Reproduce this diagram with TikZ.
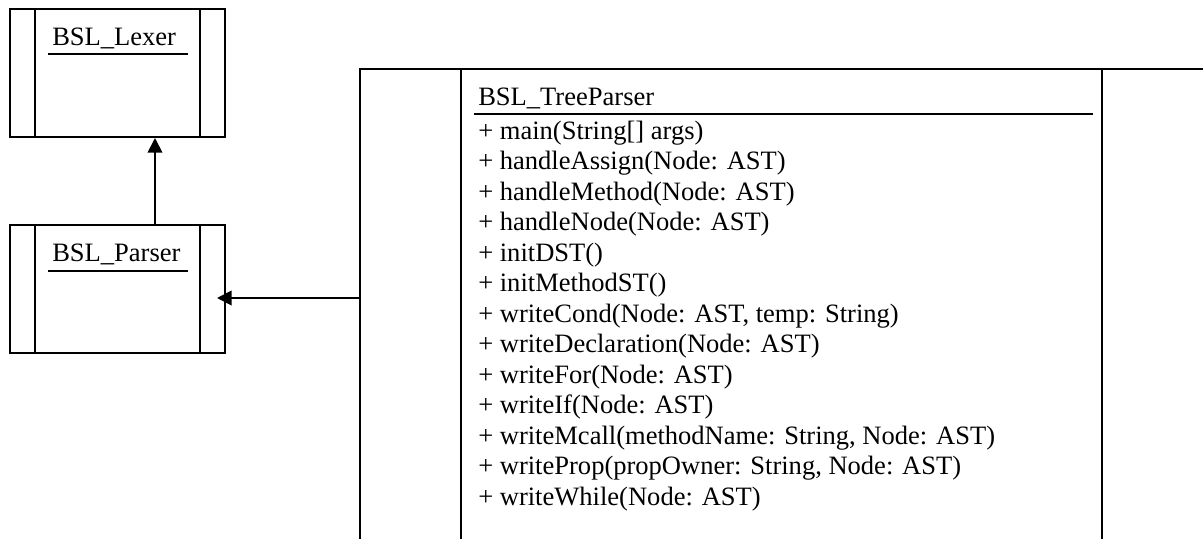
\documentclass[tikz,border=0pt]{standalone}
\usepackage{fontspec}
\setmainfont{Liberation Serif}
\usetikzlibrary{arrows.meta}
\begin{document}
\begin{tikzpicture}[x=0.75pt,y=-0.75pt,
  edge/.style={line width=1.5pt},
  rule/.style={line width=1.6pt},
  classbox/.style={draw, edge, rectangle, inner sep=0pt, minimum width=161.25pt, minimum height=96pt},
  txt/.style={anchor=base west, inner sep=0pt, font=\fontsize{19.9}{22}\selectfont},
  arr/.style={line width=1.4pt, -{Triangle[length=11pt,width=11pt]}}]
\useasboundingbox (0,0) rectangle (1203,539);
\fill[white] (0,0) rectangle (1203,539);

% class BSL_Lexer
\node[classbox] (lexer) at (117.5,73) {};
\draw[edge] ([xshift=19.5pt]lexer.north west) -- ([xshift=19.5pt]lexer.south west);
\draw[edge] ([xshift=-19.5pt]lexer.north east) -- ([xshift=-19.5pt]lexer.south east);
\node[txt] (lexname) at (52,45) {BSL\_Lexer};
\draw[rule] (48,54) -- (188,54);

% class BSL_Parser
\node[classbox] (parser) at (117.5,289) {};
\draw[edge] ([xshift=19.5pt]parser.north west) -- ([xshift=19.5pt]parser.south west);
\draw[edge] ([xshift=-19.5pt]parser.north east) -- ([xshift=-19.5pt]parser.south east);
\node[txt] (parsername) at (52,261) {BSL\_Parser};
\draw[rule] (48,271) -- (188,271);

% class BSL_TreeParser (runs past the right and bottom edges)
\node[draw, edge, rectangle, inner sep=0pt, minimum width=675pt, minimum height=413.25pt] (tree) at (810,344.5) {};
\draw[edge] ([xshift=76.5pt]tree.north west) -- ([xshift=76.5pt]tree.south west);
\draw[edge] ([xshift=557.25pt]tree.north west) -- ([xshift=557.25pt]tree.south west);
\node[txt] (treename) at (478,105) {BSL\_TreeParser};
\draw[rule] (474,114) -- (1093,114);
\foreach \t [count=\i from 0] in {
  {+ main(String[] args)},
  {+ handleAssign(Node: AST)},
  {+ handleMethod(Node: AST)},
  {+ handleNode(Node: AST)},
  {+ initDST()},
  {+ initMethodST()},
  {+ writeCond(Node: AST, temp: String)},
  {+ writeDeclaration(Node: AST)},
  {+ writeFor(Node: AST)},
  {+ writeIf(Node: AST)},
  {+ writeMcall(methodName: String, Node: AST)},
  {+ writeProp(propOwner: String, Node: AST)},
  {+ writeWhile(Node: AST)}}
  \node[txt] (m\i) at (478,{139+30.5*\i}) {\t};

% generalisation arrows
\coordinate (upx) at (155,0);
\draw[arr] (parser.north -| upx) -- (lexer.south -| upx);
\coordinate (ptip) at (217,298);
\draw[arr] (tree.west |- ptip) -- (ptip);
\end{tikzpicture}
\end{document}
